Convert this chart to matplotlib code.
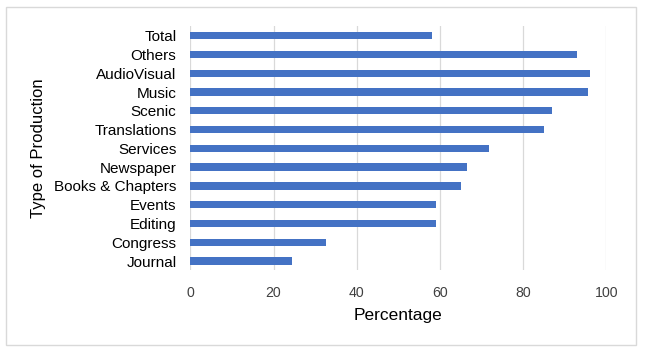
import matplotlib

matplotlib.use("Agg")
import matplotlib.pyplot as plt
from matplotlib.patches import Rectangle

BAR = "#4472c4"
GRID = "#d9d9d9"
TEXT = "#000000"
MUTED = "#404040"

categories = [
    "Total", "Others", "AudioVisual", "Music", "Scenic", "Translations",
    "Services", "Newspaper", "Books & Chapters", "Events", "Editing",
    "Congress", "Journal",
]
percentages = [58, 93, 96, 95.6, 87, 85, 71.7, 66.4, 65, 59, 59, 32.7, 24.5]
x_ticks = [0, 20, 40, 60, 80, 100]

plt.rcParams["font.family"] = ["Liberation Sans", "DejaVu Sans"]

fig = plt.figure(figsize=(6.46, 3.55), dpi=100, facecolor="white")
ax = fig.add_axes([0.2946, 0.2383, 0.644, 0.6876])

positions = list(range(len(categories)))
ax.barh(positions, percentages, height=0.39, color=BAR, zorder=3)
ax.set_yticks(positions)
ax.set_yticklabels(categories)
ax.set_ylim(len(categories) - 0.5, -0.5)
ax.set_xlim(0, 100)
ax.set_xticks(x_ticks)

ax.grid(axis="x", color=GRID, linewidth=0.9, zorder=0)
for spine in ax.spines.values():
    spine.set_visible(False)
ax.tick_params(axis="y", length=0, pad=10, labelsize=11, colors=TEXT)
ax.tick_params(axis="x", length=0, pad=11.5, labelsize=10.2, colors=MUTED)

ax.set_xlabel("Percentage", fontsize=12.5, color=TEXT)
ax.xaxis.set_label_coords(0.5, -0.183)
ax.xaxis.label.set_va("center")
ax.set_ylabel("Type of Production", fontsize=12, color=TEXT)
ax.yaxis.set_label_coords(-0.365, 0.5)
ax.yaxis.label.set_va("center")

fig.patches.append(Rectangle((6 / 646, 1 - 345 / 355), 630 / 646, 338 / 355,
                             transform=fig.transFigure, fill=False,
                             edgecolor=GRID, linewidth=1))

fig.savefig("out.png", dpi=100, facecolor="white")
